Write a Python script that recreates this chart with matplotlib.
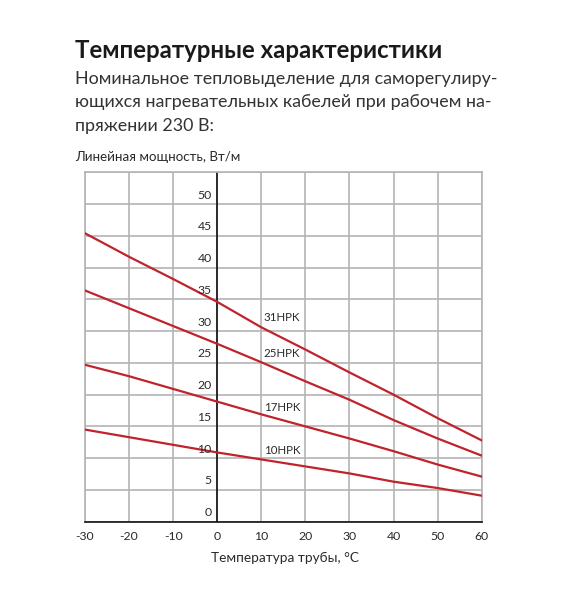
import numpy as np
import matplotlib
matplotlib.use('Agg')
import matplotlib.pyplot as plt

# температура трубы, °C
temps = [-30, -20, -10, 0, 10, 20, 30, 40, 50, 60]

# линейная мощность, Вт/м
hpk31 = [45.4, 41.7, 38.2, 34.6, 30.6, 27.1, 23.5, 20.0, 16.3, 12.8]
hpk25 = [36.4, 33.6, 30.8, 28.0, 25.1, 22.1, 19.2, 16.0, 13.1, 10.4]
hpk17 = [24.7, 22.9, 20.9, 18.9, 16.9, 15.0, 13.1, 11.1, 9.0, 7.1]
hpk10 = [14.5, 13.3, 12.1, 10.9, 9.8, 8.7, 7.6, 6.3, 5.3, 4.1]

names = ['31HPK', '25HPK', '17HPK', '10HPK']
label_y = [32.1, 26.4, 18.0, 11.2]

x_ticks = [-30, -20, -10, 0, 10, 20, 30, 40, 50, 60]
y_ticks = [0, 5, 10, 15, 20, 25, 30, 35, 40, 45, 50]

plt.rcParams['font.family'] = ['Lato', 'DejaVu Sans']
plt.rcParams['axes.unicode_minus'] = False
txt = '#2a2a2a'
red = '#c0232c'
grid = '#b4b4b4'

fig = plt.figure(figsize=(5.8, 6), dpi=100)
ax = fig.add_axes([0.1466, 0.1305, 0.6839, 0.5823])

for s in [hpk31, hpk25, hpk17, hpk10]:
    ax.plot(temps, s, color=red, lw=1.6, zorder=3)

for name, yy in zip(names, label_y):
    ax.text(10.5, yy, name, fontsize=8.3, color=txt, va='center', ha='left', zorder=4)

ax.set_xlim(-30, 60)
ax.set_ylim(0, 55)
ax.set_xticks(x_ticks)
ax.set_yticks(np.arange(0, 56, 5))
ax.grid(True, color=grid, lw=1.2, zorder=1)
ax.tick_params(length=0, labelleft=False, labelsize=8.8, labelcolor=txt, pad=7)
for side in ['left', 'right', 'top']:
    ax.spines[side].set_color(grid)
    ax.spines[side].set_linewidth(1.2)
ax.spines['bottom'].set_color('#111111')
ax.spines['bottom'].set_linewidth(1.2)
ax.axvline(0, color='#111111', lw=1.2, zorder=2)

# подписи оси Y слева от нулевой вертикали
for v in y_ticks:
    ax.annotate(str(v), (0, v), xytext=(-4, 2.5), textcoords='offset points',
                ha='right', va='bottom', fontsize=8.8, color=txt, zorder=4)

fig.text(0.129, 0.915, 'Температурные характеристики', fontsize=17.3,
         fontweight='bold', color='#1a1a1a', va='center')
lines = ['Номинальное тепловыделение для саморегулиру-',
         'ющихся нагревательных кабелей при рабочем на-',
         'пряжении 230 В:']
for i, line in enumerate(lines):
    fig.text(0.129, 0.869 - i * 0.0395, line, fontsize=12.9, color='#333333', va='center')

fig.text(0.129, 0.738, 'Линейная мощность, Вт/м', fontsize=9.6, color=txt, va='center')
fig.text(0.492, 0.07, 'Температура трубы, °C', fontsize=9.8, color=txt,
         va='center', ha='center')

fig.savefig('out.png', dpi=100)
